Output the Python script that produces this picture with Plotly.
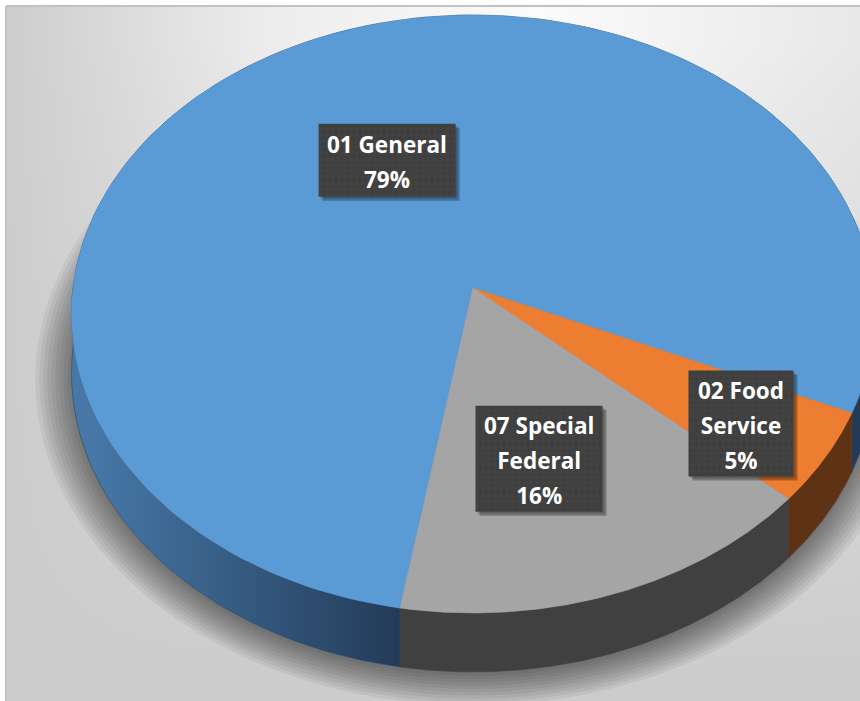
import numpy as np
import plotly.graph_objects as go

# ---- data ----
categories = ["01 General", "02 Food Service", "07 Special Federal"]
values = [79, 5, 16]
label_lines = [["01 General", "79%"], ["02 Food", "Service", "5%"], ["07 Special", "Federal", "16%"]]
top_colors = ["#5b9bd5", "#ed7d31", "#a5a5a5"]
side_colors = ["#3a6690", "#5e3214", "#404040"]

# label placement (polar, relative to slice middle) and box sizes (px)
label_radius = [0.50, 0.78, 0.57]
label_angle_shift = [1.7, 1.3, 3.2]
label_box = [(137, 73), (105, 106), (127, 106)]

# ---- 3D pie geometry (layout parameters, pixels) ----
W, H = 860, 701
CX, CY = 473.0, 288.0
A, B, K = 400.0, 296.7, 0.087
DEPTH = 59.0
START = 189.6  # degrees, clockwise from 12 o'clock


def project(theta_deg, r=1.0):
    t = np.radians(theta_deg)
    u = r * np.sin(t)
    v = -r * np.cos(t)
    den = 1.0 - K * v
    return CX + A * u / den, CY + B * v / den


total = float(sum(values))
bounds = [START]
for val in values:
    bounds.append(bounds[-1] + 360.0 * val / total)

fig = go.Figure()

# background panel
fig.add_trace(go.Scatter(
    x=[6, 875, 875, 6, 6], y=[6, 6, 715, 715, 6], mode="lines", fill="toself", hoverinfo="skip",
    line=dict(color="#c2c2c2", width=2),
    fillgradient=dict(type="horizontal", start=6, stop=860,
                      colorscale=[[0, "#cdcdcd"], [0.3, "#ececec"], [0.62, "#fbfbfb"], [1, "#e8e8e8"]]),
))
fig.add_trace(go.Scatter(
    x=[7, 875, 875, 7, 7], y=[7, 7, 715, 715, 7], mode="none", fill="toself", hoverinfo="skip",
    fillgradient=dict(type="vertical", start=40, stop=680,
                      colorscale=[[0, "rgba(204,204,204,0)"], [1, "rgba(204,204,204,1)"]]),
))

# soft shadow under the pie
ring = np.linspace(0, 360, 241)
sx, sy = project(ring)
sy = sy + DEPTH + 4
scx, scy = CX, CY + DEPTH + 4
for s in np.linspace(1.09, 1.0, 10):
    fig.add_trace(go.Scatter(
        x=scx + (sx - scx) * s, y=scy + (sy - scy) * s, mode="none", fill="toself",
        fillcolor="rgba(0,0,0,0.055)", hoverinfo="skip"))

# side walls
for i, name in enumerate(categories):
    th = np.linspace(bounds[i], bounds[i + 1], 160)
    x, y = project(th)
    px = np.concatenate([x, x[::-1], x[:1]])
    py = np.concatenate([y, (y + DEPTH)[::-1], y[:1]])
    kw = {}
    if i == 0:
        kw["fillgradient"] = dict(type="horizontal", start=95, stop=400,
                                  colorscale=[[0, "#4677a6"], [1, "#233b58"]])
    else:
        kw["fillcolor"] = side_colors[i]
    fig.add_trace(go.Scatter(x=px, y=py, mode="lines", fill="toself", hoverinfo="skip",
                             line=dict(color=side_colors[i] if i else "#2b4a6c", width=0.6), **kw))

# top faces
for i, name in enumerate(categories):
    th = np.linspace(bounds[i], bounds[i + 1], 200)
    x, y = project(th)
    px = np.concatenate([[CX], x, [CX]])
    py = np.concatenate([[CY], y, [CY]])
    fig.add_trace(go.Scatter(x=px, y=py, mode="lines", fill="toself", fillcolor=top_colors[i],
                             line=dict(color=top_colors[i], width=0.6), name=name,
                             hovertemplate=name + ": %{customdata}%<extra></extra>",
                             customdata=[values[i]] * len(px)))

# data labels: shadowed, dotted dark boxes with white text
for i, name in enumerate(categories):
    mid = (bounds[i] + bounds[i + 1]) / 2.0 + label_angle_shift[i]
    lx, ly = project(mid, label_radius[i])
    lx, ly = float(lx), float(ly)
    bw, bh = label_box[i]
    x0, x1, y0, y1 = lx - bw / 2, lx + bw / 2, ly - bh / 2, ly + bh / 2
    fig.add_trace(go.Scatter(
        x=[x0 + 4, x1 + 4, x1 + 4, x0 + 4, x0 + 4], y=[y0 + 4, y0 + 4, y1 + 4, y1 + 4, y0 + 4],
        mode="none", fill="toself", fillcolor="rgba(0,0,0,0.28)", hoverinfo="skip"))
    fig.add_trace(go.Scatter(
        x=[x0 + 2, x1 + 2, x1 + 2, x0 + 2, x0 + 2], y=[y0 + 2, y0 + 2, y1 + 2, y1 + 2, y0 + 2],
        mode="none", fill="toself", fillcolor="rgba(0,0,0,0.18)", hoverinfo="skip"))
    fig.add_trace(go.Scatter(
        x=[x0, x1, x1, x0, x0], y=[y0, y0, y1, y1, y0],
        mode="none", fill="toself", hoverinfo="skip",
        fillpattern=dict(shape=".", bgcolor="#3f3f3f", fgcolor="#484848", size=6, solidity=0.3)))
    txt = "<br>".join("<span style='font-size:22.5px'>%s</span>" % s for s in label_lines[i])
    fig.add_annotation(x=lx, y=ly, yshift=-2, text=txt, showarrow=False,
                       font=dict(family="Open Sans", size=27, weight="bold", color="white"))

fig.update_layout(
    width=W, height=H, margin=dict(l=0, r=0, t=0, b=0),
    paper_bgcolor="white", plot_bgcolor="white", showlegend=False,
    xaxis=dict(range=[0, W], visible=False, fixedrange=True),
    yaxis=dict(range=[H, 0], visible=False, fixedrange=True),
)
fig.write_html("out.html")
